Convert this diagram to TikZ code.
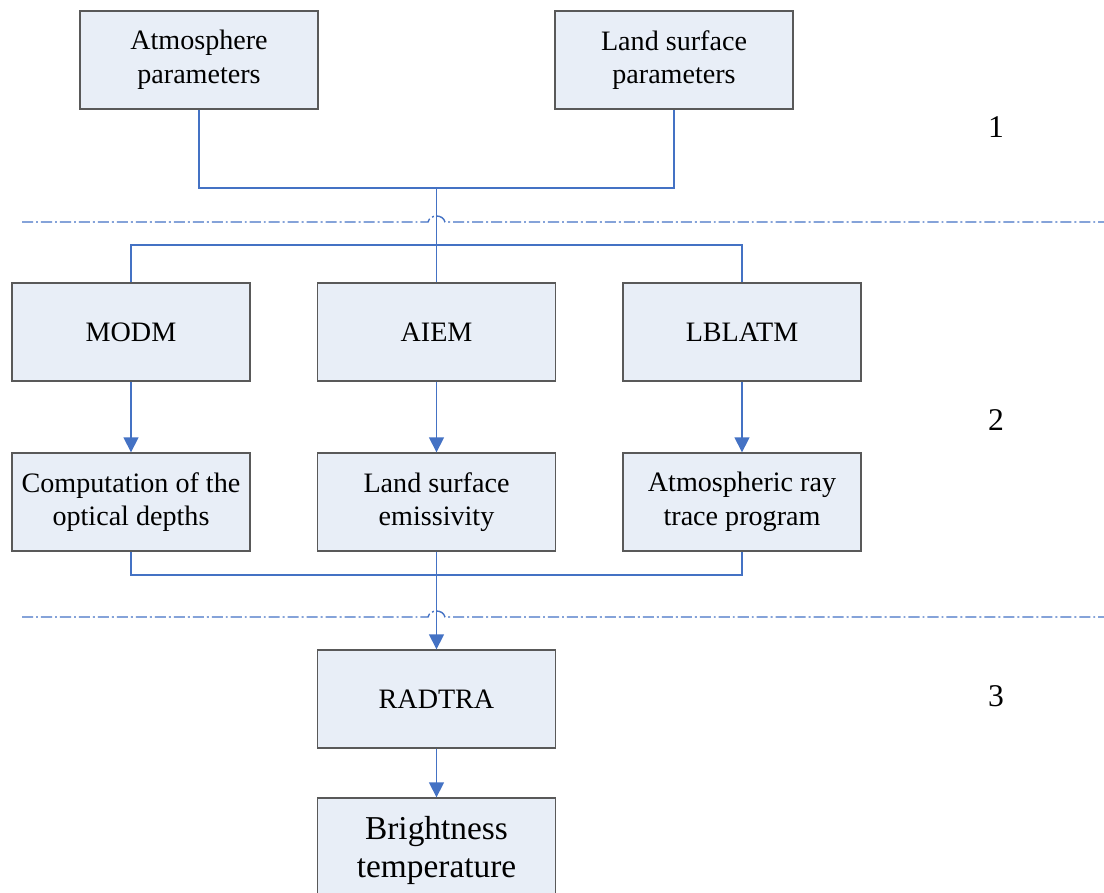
\documentclass[tikz,border=0pt]{standalone}
\usepackage{fontspec}
\setmainfont{Liberation Serif}
\usetikzlibrary{arrows.meta}
\definecolor{linkblue}{HTML}{4472C4}
\definecolor{boxfill}{HTML}{E8EEF7}
\definecolor{boxline}{HTML}{595959}

\begin{document}
\begin{tikzpicture}[x=0.02cm,y=-0.02cm,
    box/.style={draw=boxline,fill=boxfill,line width=0.8pt,minimum width=4.76cm,minimum height=1.96cm,align=center,inner sep=0pt,font=\fontsize{16}{19.2}\selectfont},
    link/.style={draw=linkblue,line width=0.9pt},
    arr/.style={link,-{Triangle[width=8.5pt,length=8.5pt]}},
    sep/.style={draw=linkblue,line width=0.8pt,dash pattern=on 6.3pt off 1.7pt on 1.1pt off 1.7pt},
    lvl/.style={font=\fontsize{18}{20}\selectfont}]
            \useasboundingbox (0,0) rectangle (1104,892);
            \node[box] (atm) at (199,60) {Atmosphere\\parameters};
            \node[box] (land) at (674,60) {Land surface\\parameters};
            \node[box] (modm) at (131,332) {MODM};
            \node[box] (aiem) at (436.5,332) {AIEM};
            \node[box] (lblatm) at (742,332) {LBLATM};
            \node[box] (comp) at (131,502) {Computation of the\\optical depths};
            \node[box] (emis) at (436.5,502) {Land surface\\emissivity};
            \node[box] (ray) at (742,502) {Atmospheric ray\\trace program};
            \node[box] (radtra) at (436.5,699) {RADTRA};
            \node[box,font=\fontsize{19}{21.6}\selectfont,text depth=0pt] (bright) at (436.5,847) {Brightness\\temperature};
            \node[lvl] (lvl1) at (996,127) {1};
            \node[lvl] (lvl2) at (996,420) {2};
            \node[lvl] (lvl3) at (996,696) {3};
            \coordinate (top) at (436.5,188);
            \coordinate (fan) at (436.5,245);
            \coordinate (join) at (436.5,575);
            % inputs
            \draw[link] (atm.south) |- (top) -| (land.south);
            \draw[link] (top) -- (aiem.north);
            \draw[link] (modm.north) |- (fan) -| (lblatm.north);
            % models
            \draw[arr] (modm) -- (comp);
            \draw[arr] (aiem) -- (emis);
            \draw[arr] (lblatm) -- (ray);
            \draw[link] (comp.south) |- (join) -| (ray.south);
            \draw[link] (emis.south) -- (join);
            \draw[arr] (join) -- (radtra);
            \draw[arr] (radtra) -- (bright);
            % separators
            \draw[sep] (22,222) -- (428,222) .. controls (430,214) and (443,214) .. (445,222) -- (1104,222);
            \draw[sep] (22,617) -- (428,617) .. controls (430,609) and (443,609) .. (445,617) -- (1104,617);
\end{tikzpicture}
\end{document}
